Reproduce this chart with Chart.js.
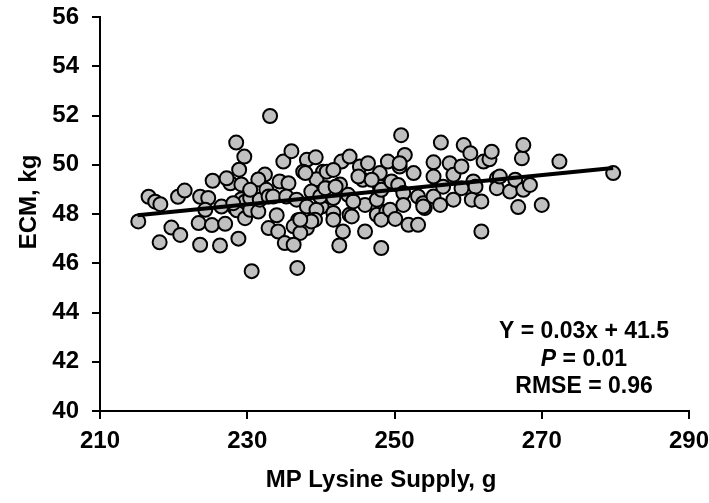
<!DOCTYPE html>
<html>
<head>
<meta charset="utf-8">
<script src="https://cdn.jsdelivr.net/npm/chart.js@4.4.1/dist/chart.umd.min.js"></script>
<style>
  html, body { margin: 0; padding: 0; background: #fff; }
  #wrap { width: 709px; height: 503px; position: relative; }
</style>
</head>
<body>
<div id="wrap"><canvas id="c" width="709" height="503"></canvas></div>
<script>
// MP lysine supply (g) for each observation
const lysineSupply = [
  215.2, 216.6, 217.5, 218.2, 218.1, 219.7, 220.6, 221.5, 220.9, 223.6,
  224.7, 224.3, 223.4, 225.2, 223.6, 225.3, 226.3, 226.5, 227.0, 227.7,
  227.2, 228.5, 228.9, 229.6, 229.2, 228.3, 228.6, 229.2, 229.7, 229.7,
  228.8, 230.6, 230.4, 231.5, 230.4, 231.7, 232.4, 231.5, 232.6, 232.9,
  233.5, 233.1, 234.9, 234.4, 235.6, 236.0, 235.3, 236.7, 234.0, 236.9,
  232.9, 234.2, 236.3, 238.1, 237.2, 235.1, 236.3, 236.8, 238.1, 239.3,
  237.6, 240.3, 239.4, 237.9, 238.7, 238.1, 240.1, 239.4, 239.2, 238.7,
  237.2, 241.2, 240.8, 242.6, 242.8, 243.9, 241.7, 241.7, 243.9, 244.2,
  243.7, 243.0, 242.5, 245.3, 246.4, 245.7, 246.0, 246.0, 247.6, 247.6,
  248.0, 248.0, 248.2, 248.9, 249.1, 249.6, 248.2, 248.2, 249.4, 250.1,
  250.7, 250.5, 250.9, 251.4, 251.2, 251.2, 251.9, 253.2, 252.6, 253.2,
  253.9, 254.1, 255.3, 255.3, 255.3, 256.3, 257.5, 258.0, 258.0, 259.1,
  259.4, 260.3, 260.7, 261.0, 260.5, 261.8, 261.8, 262.1, 262.9, 263.2,
  263.9, 263.9, 264.3, 265.7, 266.4, 266.8, 267.5, 268.4, 267.3, 267.5,
  270.0, 272.4, 279.7, 250.7, 253.9, 240.8, 241.7, 245.1, 246.9, 239.9,
  241.7, 244.4, 240.6, 242.0, 230.4, 228.1, 256.6, 259.1, 256.2
];
// ECM (kg) for each observation
const ecmYield = [
  47.70, 48.70, 48.50, 48.40, 46.85, 47.45, 48.70, 48.95, 47.15, 48.70,
  48.65, 48.17, 47.63, 47.55, 46.75, 49.35, 46.72, 48.30, 47.60, 49.25,
  49.45, 50.90, 49.80, 50.33, 49.20, 48.25, 48.15, 48.60, 48.50, 47.83,
  47.00, 45.68, 48.17, 48.10, 48.65, 48.58, 49.60, 49.40, 48.98, 48.71,
  48.71, 51.98, 50.13, 49.32, 49.25, 50.55, 48.71, 48.58, 47.95, 47.75,
  47.43, 47.29, 47.50, 47.43, 47.23, 46.82, 46.75, 45.81, 50.20, 50.30,
  49.72, 49.72, 49.41, 49.66, 48.91, 48.30, 48.30, 48.17, 47.77, 47.70,
  47.77, 48.71, 49.05, 49.20, 50.13, 50.33, 48.04, 47.77, 47.97, 47.90,
  48.78, 47.29, 46.72, 49.93, 50.06, 49.39, 48.37, 47.29, 48.58, 47.97,
  49.66, 49.11, 48.98, 48.10, 50.13, 49.32, 47.77, 46.62, 48.17, 47.80,
  49.93, 49.18, 51.20, 50.40, 48.85, 48.37, 47.56, 47.56, 49.66, 48.71,
  48.44, 48.24, 50.10, 49.52, 48.71, 50.90, 50.06, 49.59, 48.58, 49.93,
  50.80, 50.47, 49.32, 49.11, 48.58, 48.51, 47.29, 50.13, 50.22, 50.53,
  49.45, 49.05, 49.52, 48.91, 49.39, 48.28, 48.98, 49.18, 50.26, 50.80,
  48.37, 50.13, 49.66, 50.06, 48.30, 49.72, 49.79, 49.52, 49.39, 48.71,
  48.65, 48.51, 49.05, 49.11, 48.98, 48.44, 49.11, 49.05, 48.37
];
// Fitted regression line end points
const fitX = [215.1, 279.7];
const fitY = [47.95, 49.87];
// Axis ranges / tick spacing
const xRange = [210, 290];
const yRange = [40, 56];
const xStep = 20;
const yStep = 2;
// Texts
const xTitle = 'MP Lysine Supply, g';
const yTitle = 'ECM, kg';
const statLines = ['Y = 0.03x + 41.5', 'P = 0.01', 'RMSE = 0.96'];

const FONT = '"Liberation Sans", Arial, Helvetica, sans-serif';

const scatterPts = lysineSupply.map((x, i) => ({ x: x, y: ecmYield[i] }));
const fitPts = fitX.map((x, i) => ({ x: x, y: fitY[i] }));

const textPlugin = {
  id: 'texts',
  afterDraw(chart) {
    const ctx = chart.ctx;
    ctx.save();
    ctx.fillStyle = '#000';
    ctx.textBaseline = 'middle';
    const bold = 'bold 23px ' + FONT;
    const boldIt = 'italic bold 23px ' + FONT;
    // statistics block
    const cx = 584;
    const ys = [332, 360, 387];
    ctx.font = bold; ctx.textAlign = 'center';
    ctx.fillText(statLines[0], cx, ys[0]);
    const pPart = statLines[1].slice(0, 1);
    const rest = statLines[1].slice(1);
    ctx.font = boldIt; const w1 = ctx.measureText(pPart).width;
    ctx.font = bold; const w2 = ctx.measureText(rest).width;
    const sx = cx - (w1 + w2) / 2;
    ctx.textAlign = 'left';
    ctx.font = boldIt; ctx.fillText(pPart, sx, ys[1]);
    ctx.font = bold; ctx.fillText(rest, sx + w1, ys[1]);
    ctx.textAlign = 'center';
    ctx.fillText(statLines[2], cx, ys[2]);
    // axis titles
    ctx.font = 'bold 24px ' + FONT;
    ctx.fillText(xTitle, 381, 480);
    ctx.translate(29, 202);
    ctx.rotate(-Math.PI / 2);
    ctx.fillText(yTitle, 0, 0);
    ctx.restore();
  }
};

new Chart(document.getElementById('c'), {
  type: 'scatter',
  data: {
    datasets: [
      {
        type: 'line',
        label: 'fit',
        data: fitPts,
        borderColor: '#000',
        borderWidth: 4,
        pointRadius: 0,
        fill: false,
        order: 0
      },
      {
        label: 'obs',
        data: scatterPts,
        backgroundColor: '#C0C0C0',
        borderColor: '#000',
        borderWidth: 2,
        pointRadius: 7,
        order: 1
      }
    ]
  },
  options: {
    responsive: false,
    animation: false,
    devicePixelRatio: 1,
    layout: { padding: { left: 0, right: 20, top: 17, bottom: 0 } },
    plugins: { legend: { display: false }, tooltip: { enabled: false } },
    scales: {
      x: {
        type: 'linear',
        min: xRange[0], max: xRange[1],
        afterFit: s => { s.height = 92; s.paddingLeft = 0; s.paddingRight = 0; },
        ticks: { stepSize: xStep, color: '#000', padding: 8, font: { family: FONT, size: 24, weight: 'bold' } },
        grid: { drawOnChartArea: false, drawTicks: true, tickLength: 8, color: '#000', lineWidth: 2 },
        border: { display: true, color: '#000', width: 2 },
        title: { display: false }
      },
      y: {
        min: yRange[0], max: yRange[1],
        afterFit: s => { s.width = 100; s.paddingTop = 0; s.paddingBottom = 0; },
        ticks: { stepSize: yStep, color: '#000', padding: 13, font: { family: FONT, size: 24, weight: 'bold' } },
        grid: { drawOnChartArea: false, drawTicks: true, tickLength: 8, color: '#000', lineWidth: 2 },
        border: { display: true, color: '#000', width: 2 },
        title: { display: false }
      }
    }
  },
  plugins: [textPlugin]
});
</script>
</body>
</html>
